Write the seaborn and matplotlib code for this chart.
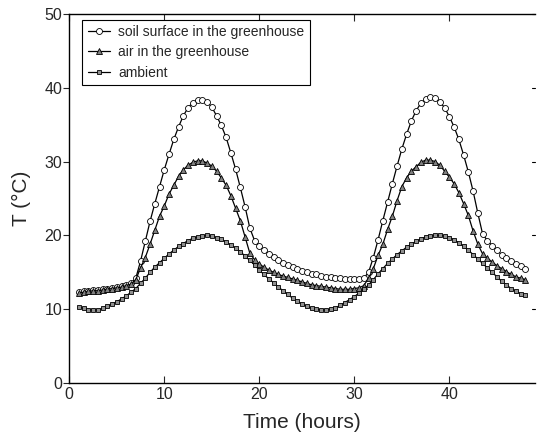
import numpy as np
import pandas as pd
import matplotlib
matplotlib.use("Agg")
import matplotlib.pyplot as plt
import seaborn as sns

hours = np.arange(1.0, 48.01, 0.5)

soil = [12.3, 12.4, 12.5, 12.6, 12.6, 12.7, 12.8, 12.9, 13.0, 13.1,
        13.3, 13.5, 14.2, 16.5, 19.2, 21.9, 24.3, 26.6, 28.9, 31.0,
        33.0, 34.7, 36.2, 37.3, 38.0, 38.4, 38.4, 38.1, 37.4, 36.2,
        34.9, 33.3, 31.2, 29.0, 26.5, 23.9, 21.0, 19.3, 18.5, 18.0,
        17.5, 17.1, 16.7, 16.3, 16.0, 15.7, 15.4, 15.2, 15.0, 14.8,
        14.7, 14.5, 14.4, 14.3, 14.2, 14.2, 14.1, 14.1, 14.1, 14.1,
        14.2, 15.0, 17.0, 19.4, 22.0, 24.5, 27.0, 29.4, 31.7, 33.7,
        35.5, 36.9, 37.9, 38.5, 38.7, 38.6, 38.1, 37.3, 36.1, 34.7,
        33.0, 30.9, 28.6, 26.0, 23.0, 20.2, 19.3, 18.6, 18.0, 17.4,
        16.9, 16.5, 16.1, 15.8, 15.5]

air = [12.2, 12.3, 12.4, 12.5, 12.5, 12.6, 12.7, 12.8, 12.9, 13.0,
       13.2, 13.4, 14.0, 15.6, 17.0, 18.8, 20.7, 22.6, 24.0, 25.6,
       26.8, 28.0, 28.9, 29.5, 29.9, 30.1, 30.1, 29.8, 29.4, 28.7,
       27.8, 26.8, 25.4, 23.7, 22.0, 19.8, 17.6, 16.7, 16.1, 15.7,
       15.3, 15.0, 14.7, 14.5, 14.3, 14.1, 13.9, 13.7, 13.5, 13.3,
       13.2, 13.1, 13.0, 12.9, 12.8, 12.7, 12.7, 12.7, 12.8, 12.9,
       13.2, 14.2, 15.5, 17.3, 18.8, 20.8, 22.6, 24.7, 26.6, 27.8,
       28.7, 29.3, 29.9, 30.2, 30.2, 30.0, 29.5, 28.7, 27.9, 27.0,
       25.8, 24.3, 22.7, 20.6, 18.8, 17.5, 16.9, 16.4, 15.9, 15.5,
       15.1, 14.7, 14.4, 14.2, 14.0]

ambient = [10.3, 10.1, 9.9, 9.9, 9.9, 10.1, 10.4, 10.7, 11.0, 11.4,
           11.8, 12.3, 12.8, 13.5, 14.2, 15.0, 15.7, 16.3, 16.9, 17.5,
           18.0, 18.5, 18.9, 19.3, 19.6, 19.8, 19.9, 20.0, 19.9, 19.7,
           19.5, 19.1, 18.7, 18.3, 17.8, 17.2, 16.6, 16.0, 15.3, 14.7,
           14.1, 13.6, 13.0, 12.5, 12.0, 11.5, 11.1, 10.7, 10.4, 10.1,
           10.0, 9.9, 9.9, 10.0, 10.2, 10.5, 10.9, 11.3, 11.7, 12.2,
           12.7, 13.3, 14.0, 14.8, 15.5, 16.2, 16.8, 17.4, 17.9, 18.4,
           18.8, 19.2, 19.5, 19.8, 19.9, 20.0, 20.0, 19.9, 19.7, 19.4,
           19.0, 18.5, 18.0, 17.4, 16.8, 16.2, 15.6, 15.0, 14.4, 13.8,
           13.3, 12.8, 12.4, 12.1, 11.9]

labels = ["soil surface in the greenhouse", "air in the greenhouse", "ambient"]
x_ticks = [0, 10, 20, 30, 40]
y_ticks = [0, 10, 20, 30, 40, 50]

sns.set_style("ticks")
plt.rcParams["font.family"] = ["Liberation Sans", "DejaVu Sans"]

fig = plt.figure(figsize=(5.37, 4.37), dpi=100)
ax = fig.add_axes([0.129, 0.1236, 0.867, 0.8444])

df = pd.DataFrame({"t": hours, "soil": soil, "air": air, "ambient": ambient})

sns.lineplot(data=df, x="t", y="soil", ax=ax, color="black", lw=0.9,
             marker="o", markersize=4.3, markerfacecolor="white",
             markeredgecolor="black", markeredgewidth=0.6, label=labels[0])
sns.lineplot(data=df, x="t", y="air", ax=ax, color="black", lw=0.9,
             marker="^", markersize=4.0, markerfacecolor="#808080",
             markeredgecolor="black", markeredgewidth=0.6, label=labels[1])
sns.lineplot(data=df, x="t", y="ambient", ax=ax, color="black", lw=0.9,
             marker="s", markersize=3.2, markerfacecolor="#909090",
             markeredgecolor="black", markeredgewidth=0.6, label=labels[2])

ax.set_xlim(0, 49)
ax.set_ylim(0, 50)
ax.set_xticks(x_ticks)
ax.set_yticks(y_ticks)
ax.tick_params(axis="x", direction="in", top=True, length=5, labelsize=11.5,
               width=0.8, pad=3)
ax.tick_params(axis="y", direction="out", right=False, length=4, labelsize=11.5,
               width=0.8, pad=1)
for s in ["left", "bottom", "top"]:
    ax.spines[s].set_linewidth(1.0)
    ax.spines[s].set_color("black")
ax.spines["right"].set_visible(False)
for yv in y_ticks[1:]:
    ax.plot([48.75, 49], [yv, yv], color="black", lw=0.8, clip_on=False)

ax.set_xlabel("Time (hours)", fontsize=15, labelpad=8)
ax.set_ylabel("T (°C)", fontsize=15, labelpad=10)

leg = ax.legend(loc="upper left", bbox_to_anchor=(0.028, 0.985), fontsize=10,
                frameon=True, fancybox=False, framealpha=1, edgecolor="black",
                handlelength=1.6, handletextpad=0.6, borderpad=0.4,
                labelspacing=0.45, borderaxespad=0)
leg.get_frame().set_linewidth(0.8)

fig.savefig("out.png", dpi=100)
